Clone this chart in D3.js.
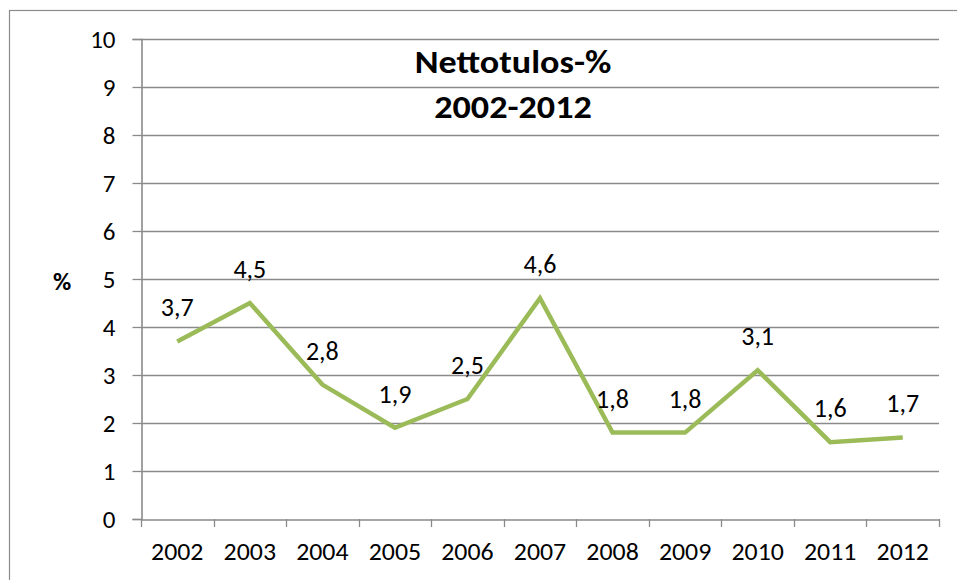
<!DOCTYPE html>
<html><head><meta charset="utf-8">
<script src="https://cdn.jsdelivr.net/npm/d3@7"></script>
<style>body{margin:0;background:#fff}svg{display:block}text{font-family:Carlito,Lato,"Open Sans",sans-serif}</style>
</head><body><svg id="c" width="957" height="580"></svg>
<script>
const years = ["2002","2003","2004","2005","2006","2007","2008","2009","2010","2011","2012"];
const values = [3.7,4.5,2.8,1.9,2.5,4.6,1.8,1.8,3.1,1.6,1.7];
const yTicks = [0,1,2,3,4,5,6,7,8,9,10];
const titleLines = ["Nettotulos-%","2002-2012"];
const yAxisLabel = "%";

const svg = d3.select("#c");
const L = 141, R = 939, T = 39, B = 519;
const x = d3.scaleBand().domain(years).range([L, R]);
const y = d3.scaleLinear().domain([0, 10]).range([B, T]);
const grid = "#8a8a8a";

svg.append("rect").attr("x",9.5).attr("y",10.5).attr("width",1100).attr("height",700)
  .attr("fill","none").attr("stroke","#8c8c8c").attr("stroke-width",1.2);

// gridlines
svg.append("g").selectAll("line").data(yTicks.filter(d=>d>0)).join("line")
  .attr("x1",L).attr("x2",R).attr("y1",d=>Math.round(y(d))+0.5).attr("y2",d=>Math.round(y(d))+0.5)
  .attr("stroke",grid).attr("stroke-width",1.3);

// y axis
const ya = svg.append("g").attr("transform",`translate(${L+0.5},0)`)
  .call(d3.axisLeft(y).tickValues(yTicks).tickSize(9).tickPadding(17).tickFormat(d3.format("d")));
ya.select(".domain").attr("stroke",grid).attr("stroke-width",1.6);
ya.selectAll(".tick line").attr("stroke",grid).attr("stroke-width",1.3);
ya.selectAll(".tick text").attr("font-size",25).attr("fill","#000").attr("font-family",null)
  .attr("dy",null).attr("y",8.5);

// x axis
const xa = svg.append("g").attr("transform",`translate(0,${B+0.5})`)
  .call(d3.axisBottom(x).tickSize(0).tickPadding(0));
xa.select(".domain").attr("stroke",grid).attr("stroke-width",1.6);
xa.selectAll(".tick text").attr("font-family",null).attr("font-size",23.5).attr("fill","#000")
  .attr("dy",null).attr("y",0)
  .attr("transform","translate(0,40) scale(1.1,1)");
svg.append("g").selectAll("line").data(years.concat(["end"])).join("line")
  .attr("x1",(d,i)=>Math.round(L+i*x.bandwidth())+0.5).attr("x2",(d,i)=>Math.round(L+i*x.bandwidth())+0.5)
  .attr("y1",B).attr("y2",B+8).attr("stroke",grid).attr("stroke-width",1.3);

// line
const line = d3.line().x((d,i)=>x(years[i])+x.bandwidth()/2).y(d=>y(d));
svg.append("path").datum(values).attr("d",line).attr("fill","none")
  .attr("stroke","#9bbb59").attr("stroke-width",4.5).attr("stroke-linejoin","miter");

// data labels
svg.append("g").selectAll("text").data(values).join("text")
  .attr("x",(d,i)=>x(years[i])+x.bandwidth()/2).attr("y",d=>y(d)-25)
  .attr("text-anchor","middle").attr("font-size",26).attr("fill","#000")
  .text(d=>String(d).replace(".",","));

// title
svg.append("g").selectAll("text").data(titleLines).join("text")
  .attr("transform",(d,i)=>`translate(513,${72.7+i*45}) scale(1.13,1)`)
  .attr("text-anchor","middle")
  .attr("font-size",32).attr("font-weight","bold").attr("fill","#000").text(d=>d);

svg.append("text").attr("x",62).attr("y",290).attr("text-anchor","middle")
  .attr("font-size",25).attr("font-weight","bold").text(yAxisLabel);
</script></body></html>
